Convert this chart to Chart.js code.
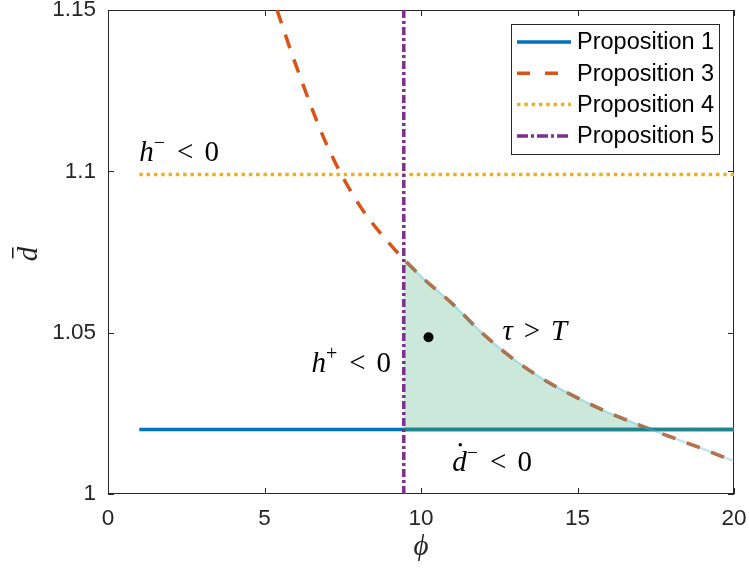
<!DOCTYPE html>
<html>
<head>
<meta charset="utf-8">
<script src="https://cdn.jsdelivr.net/npm/chart.js@4.4.1/dist/chart.umd.min.js"></script>
<style>
  html, body { margin: 0; padding: 0; background: #fff; }
  #wrap { width: 749px; height: 575px; }
</style>
</head>
<body>
<div id="wrap"><canvas id="chart" width="749" height="575"></canvas></div>
<script>
// values
const xTicks = [0, 5, 10, 15, 20];
const yTicks = [1, 1.05, 1.1, 1.15];

const prop1Phi = [1, 20];
const prop1D = [1.02, 1.02];

const prop3Phi = [5.4, 6, 7, 8, 9, 10, 11, 12, 13, 14, 15, 16, 17, 18, 19, 20];
const prop3D = [1.150, 1.133, 1.108, 1.090, 1.0775, 1.0675, 1.059, 1.0495, 1.0415, 1.035, 1.0298, 1.0252, 1.0213, 1.0176, 1.014, 1.0102];

const prop4Phi = [1, 20];
const prop4D = [1.099, 1.099];

const prop5Phi = [9.45, 9.45];
const prop5D = [1, 1.15];

// shaded region: upper edge, filled down to d = 1.02
const regionPhi = [9.45, 10, 11, 12, 13, 14, 15, 16, 17, 17.25];
const regionD = [1.0727, 1.0675, 1.059, 1.0495, 1.0415, 1.035, 1.0298, 1.0252, 1.0213, 1.0203];
const regionBase = 1.02;
const regionLowerPhi = [9.45, 20];
const regionLowerD = [1.02, 1.02];

const dotPhi = [10.24];
const dotD = [1.0486];

const BLUE = '#0072BD';
const ORANGE = '#D95319';
const YELLOW = '#EDB120';
const PURPLE = '#7E2F8E';

const pts = (xs, ys) => xs.map((x, i) => ({ x: x, y: ys[i] }));

const SERIF = '"Liberation Serif", "DejaVu Serif", serif';
const SANS = '"Liberation Sans", Arial, sans-serif';

// text labels in data coordinates
const notes = [
    { x: 1.0, y: 1.1031, parts: [{ t: 'h', it: true }, { t: '\u2212', sup: true }, { t: '<', gap: 11 }, { t: '0', gap: 11 }] },
    { x: 6.5, y: 1.0377, parts: [{ t: 'h', it: true }, { t: '+', sup: true }, { t: '<', gap: 11 }, { t: '0', gap: 11 }] },
    { x: 12.6, y: 1.0477, parts: [{ t: '\u03C4', it: true }, { t: '>', gap: 11 }, { t: 'T', it: true, gap: 11 }] },
    { x: 11.0, y: 1.0072, parts: [{ t: 'd', it: true, dot: true }, { t: '\u2212', sup: true }, { t: '<', gap: 11 }, { t: '0', gap: 11 }] }
];

function drawMath(ctx, x, y, parts, size) {
    let cx = x;
    parts.forEach(p => {
        cx += p.gap || 0;
        const s = p.sup ? Math.round(size * 0.7) : size;
        ctx.font = (p.it ? 'italic ' : '') + s + 'px ' + SERIF;
        const dy = p.sup ? -size * 0.42 : 0;
        ctx.fillText(p.t, cx, y + dy);
        const w = ctx.measureText(p.t).width;
        if (p.dot) {
            ctx.beginPath();
            ctx.arc(cx + w * 0.55, y - size * 0.9, size * 0.06, 0, Math.PI * 2);
            ctx.fill();
        }
        cx += w + (p.sup ? 1 : 0);
    });
}

const decorPlugin = {
    id: 'decor',
    beforeDatasetsDraw(chart) {
        const { ctx, chartArea: a, scales } = chart;
        ctx.save();
        ctx.strokeStyle = '#262626';
        ctx.lineWidth = 1;
        ctx.strokeRect(a.left + 0.5, a.top + 0.5, a.right - a.left - 1, a.bottom - a.top - 1);
        ctx.beginPath();
        xTicks.forEach(v => {
            const px = Math.round(scales.x.getPixelForValue(v)) + 0.5;
            ctx.moveTo(px, a.bottom); ctx.lineTo(px, a.bottom - 6);
            ctx.moveTo(px, a.top); ctx.lineTo(px, a.top + 6);
        });
        yTicks.forEach(v => {
            const py = Math.round(scales.y.getPixelForValue(v)) + 0.5;
            ctx.moveTo(a.left, py); ctx.lineTo(a.left + 6, py);
            ctx.moveTo(a.right, py); ctx.lineTo(a.right - 6, py);
        });
        ctx.stroke();
        ctx.restore();
    },
    afterDraw(chart) {
        const { ctx, chartArea: a, scales } = chart;
        ctx.save();
        ctx.fillStyle = '#000';
        ctx.textBaseline = 'alphabetic';
        ctx.textAlign = 'left';
        notes.forEach(n => {
            drawMath(ctx, scales.x.getPixelForValue(n.x), scales.y.getPixelForValue(n.y), n.parts, 29);
        });

        // axis titles
        ctx.fillStyle = '#262626';
        ctx.font = 'italic 29px ' + SERIF;
        ctx.textAlign = 'center';
        ctx.fillText('\u03D5', (a.left + a.right) / 2, 555);

        ctx.save();
        ctx.translate(37, (a.top + a.bottom) / 2 + 2);
        ctx.rotate(-Math.PI / 2);
        ctx.font = 'italic 29px ' + SERIF;
        ctx.fillText('d', 0, 0);
        const dw = ctx.measureText('d').width;
        ctx.fillRect(-dw * 0.3, -25, dw * 0.75, 1.6);
        ctx.restore();

        // legend box
        const lx = 511, ly = 24, lw = 208, lh = 130;
        ctx.fillStyle = '#fff';
        ctx.fillRect(lx, ly, lw, lh);
        ctx.strokeStyle = '#262626';
        ctx.lineWidth = 1;
        ctx.strokeRect(lx + 0.5, ly + 0.5, lw, lh);
        ctx.font = '23.5px ' + SANS;
        ctx.textAlign = 'left';
        ctx.textBaseline = 'middle';
        let row = 0;
        chart.data.datasets.forEach(ds => {
            if (!ds.inLegend) return;
            const yy = ly + 18 + row * 31.3;
            ctx.beginPath();
            ctx.setLineDash(ds.legendDash || ds.borderDash || []);
            ctx.strokeStyle = ds.borderColor;
            ctx.lineWidth = ds.borderWidth;
            ctx.moveTo(517, yy);
            ctx.lineTo(571, yy);
            ctx.stroke();
            ctx.setLineDash([]);
            ctx.fillStyle = '#000';
            ctx.fillText(ds.label, 577, yy + 1);
            row++;
        });
        ctx.restore();
    }
};

const line = (label, data, color, width, dash, order, extra) => Object.assign({
    label: label,
    data: data,
    showLine: true,
    borderColor: color,
    borderWidth: width,
    borderDash: dash,
    pointRadius: 0,
    fill: false,
    order: order
}, extra || {});

document.addEventListener('DOMContentLoaded', () => {
    const ctx = document.getElementById('chart').getContext('2d');
    new Chart(ctx, {
        type: 'scatter',
        data: {
            datasets: [
                line('Proposition 1', pts(prop1Phi, prop1D), BLUE, 3.5, [], 9, { inLegend: true }),
                line('Proposition 3', pts(prop3Phi, prop3D), ORANGE, 3.5, [14, 12], 7, { inLegend: true, legendDash: [13, 15], cubicInterpolationMode: 'monotone' }),
                line('Proposition 4', pts(prop4Phi, prop4D), YELLOW, 3.5, [3.5, 3.8], 8, { inLegend: true }),
                line('Proposition 5', pts(prop5Phi, prop5D), PURPLE, 3.5, [8, 3, 3, 3], 2, { inLegend: true, legendDash: [11, 3, 3, 3] }),
                line('region', pts(regionPhi, regionD), 'rgba(0,0,0,0)', 0, [], 6, {
                    cubicInterpolationMode: 'monotone',
                    fill: { value: regionBase },
                    backgroundColor: 'rgba(0,140,70,0.2)'
                }),
                line('region base', pts(regionLowerPhi, regionLowerD), 'rgb(33,131,140)', 3.5, [], 5),
                line('region edge', pts(regionPhi, regionD).concat(pts(prop3Phi, prop3D).filter(p => p.x > 17.25)),
                    'rgba(90,185,210,0.4)', 2.2, [], 4, { cubicInterpolationMode: 'monotone' }),
                {
                    label: 'point',
                    data: pts(dotPhi, dotD),
                    pointRadius: 5,
                    pointBackgroundColor: '#000',
                    pointBorderWidth: 0,
                    showLine: false,
                    order: 1
                }
            ]
        },
        options: {
            responsive: false,
            animation: false,
            events: [],
            layout: { padding: { top: 10, right: 15, left: 0, bottom: 0 } },
            plugins: {
                legend: { display: false },
                tooltip: { enabled: false }
            },
            scales: {
                x: {
                    type: 'linear',
                    min: 0,
                    max: 20,
                    afterBuildTicks: s => { s.ticks = xTicks.map(v => ({ value: v })); },
                    afterFit: s => { s.height = 81; s.paddingLeft = 0; s.paddingRight = 0; },
                    grid: { display: false, drawTicks: false },
                    border: { display: false },
                    ticks: { color: '#262626', font: { family: SANS, size: 22.5 }, padding: 11, callback: v => String(v) }
                },
                y: {
                    type: 'linear',
                    min: 1,
                    max: 1.15,
                    afterBuildTicks: s => { s.ticks = yTicks.map(v => ({ value: v })); },
                    afterFit: s => { s.width = 108; s.paddingTop = 0; s.paddingBottom = 0; },
                    grid: { display: false, drawTicks: false },
                    border: { display: false },
                    ticks: { color: '#262626', font: { family: SANS, size: 22.5 }, padding: 12, callback: v => String(v) }
                }
            }
        },
        plugins: [decorPlugin]
    });
});
</script>
</body>
</html>
